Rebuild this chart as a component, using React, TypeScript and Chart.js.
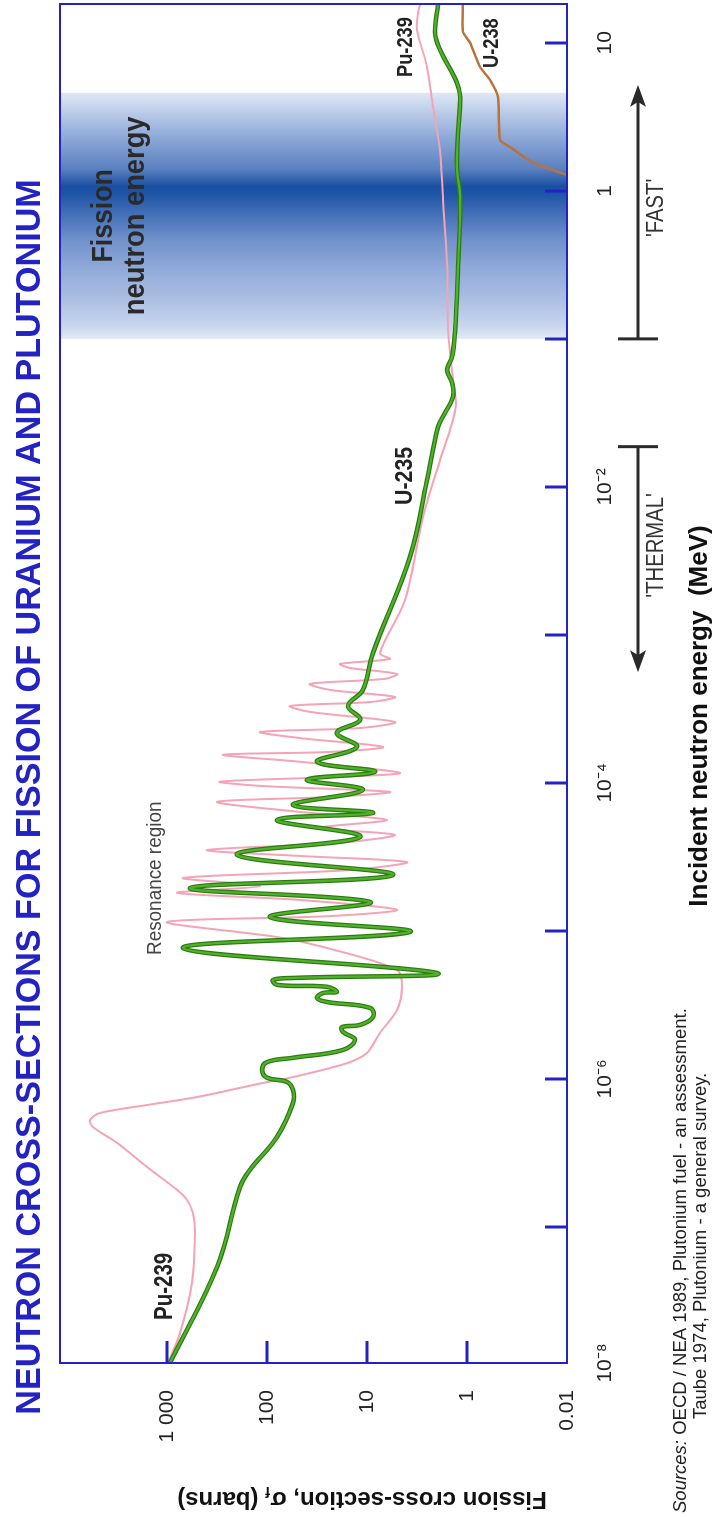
import React, { useEffect, useRef } from 'react';
import { Chart, registerables } from 'chart.js';

Chart.register(...registerables);

const FONT = '"Liberation Sans", Arial, Helvetica, sans-serif';

// ---------- axes ----------
const ENERGY_MIN = 1.205e-8;
const ENERGY_MAX = 18.3;
const SIGMA_MIN = 0.1;
const SIGMA_MAX = 11750;

const xTickValues = [1.205e-8, 1e-7, 1e-6, 1e-5, 1e-4, 1e-3, 1e-2, 1e-1, 1, 10];
const xTickLabels = ['10⁻⁸', '', '10⁻⁶', '', '10⁻⁴', '', '10⁻²', '', '1', '10'];
const yTickValues = [0.1, 1, 10, 100, 1000];
const yTickLabels = ['0.01', '1', '10', '100', '1 000'];

// ---------- U-235 (MeV, barns) ----------
const u235Energy = [
  1.21e-8, 5.37e-8, 1.86e-7, 2.43e-7, 4.06e-7, 6.89e-7, 8.43e-7, 9.55e-7, 1.02e-6, 1.15e-6,
  1.3e-6, 1.39e-6, 1.57e-6, 1.84e-6, 2.08e-6, 2.24e-6, 2.32e-6, 2.62e-6, 3.02e-6, 3.31e-6,
  3.52e-6, 3.81e-6, 3.87e-6, 4.19e-6, 4.32e-6, 4.67e-6, 4.81e-6, 5.2e-6, 7.67e-6, 9.84e-6,
  1.24e-5, 1.57e-5, 1.95e-5, 2.39e-5, 3.27e-5, 4.32e-5, 5.62e-5, 6.27e-5, 7.1e-5, 8.97e-5,
  1.05e-4, 1.19e-4, 1.39e-4, 1.75e-4, 2.18e-4, 2.67e-4, 3.31e-4, 4.25e-4, 7.55e-4, 3.37e-3,
  1.11e-2, 2.54e-2, 3.16e-2, 4.06e-2, 5.05e-2, 6.18e-2, 7.55e-2, 0.11, 0.306, 0.869,
  1.45, 2.46, 4.32, 5.37, 8.97, 11.7, 18.1,
];
const u235Sigma = [
  933, 316, 186, 148, 79.4, 55, 55, 63, 100, 112,
  100, 55, 17.4, 13.2, 17.4, 17.8, 11.7, 8.7, 9.3, 25,
  31.6, 27.5, 20, 25, 79, 87, 55, 2.0, 692, 3.72,
  93.3, 9.33, 589, 5.5, 200, 11.7, 79.4, 8.71, 55, 11.0,
  39.8, 8.32, 31.6, 12.6, 20.0, 11.7, 15.5, 11.0, 8.71, 3.72,
  2.51, 1.95, 1.66, 1.38, 1.41, 1.58, 1.41, 1.32, 1.23, 1.17,
  1.26, 1.23, 1.17, 1.26, 1.86, 2.09, 1.95,
];

// ---------- Pu-239 ----------
const pu239Energy = [
  1.21e-8, 1.92e-8, 4.19e-8, 9.1e-8, 1.24e-7, 1.52e-7, 1.78e-7, 2.54e-7, 3.7e-7, 4.74e-7,
  5.28e-7, 5.89e-7, 6.67e-7, 7.55e-7, 9.4e-7, 1.03e-6, 1.28e-6, 1.5e-6, 2.05e-6, 2.92e-6,
  4.19e-6, 5.45e-6, 7.8e-6, 9.1e-6, 1.15e-5, 1.26e-5, 1.39e-5, 1.62e-5, 1.81e-5, 2.01e-5,
  2.28e-5, 2.58e-5, 2.92e-5, 3.21e-5, 3.52e-5, 3.94e-5, 4.46e-5, 4.97e-5, 5.62e-5, 6.37e-5,
  7.45e-5, 8.04e-5, 8.69e-5, 9.55e-5, 1.02e-4, 1.1e-4, 1.17e-4, 1.39e-4, 1.55e-4, 1.62e-4,
  1.75e-4, 2.01e-4, 2.21e-4, 2.35e-4, 2.58e-4, 3.02e-4, 3.31e-4, 3.52e-4, 3.81e-4, 4.25e-4,
  4.67e-4, 5.05e-4, 5.45e-4, 5.98e-4, 6.37e-4, 6.89e-4, 7.55e-4, 1.72e-3, 6.27e-3, 1.52e-2,
  2.43e-2, 3.58e-2, 5.28e-2, 0.115, 0.306, 0.869, 1.89, 3.7, 6.88, 12.2,
  16.0, 18.1,
];
const pu239Sigma = [
  977, 741, 562, 525, 550, 631, 794, 1580, 3160, 5500,
  5890, 4680, 1580, 501, 110, 55, 15.8, 10.0, 7.41, 5.01,
  4.47, 5.01, 27.5, 79.4, 1000, 23.4, 5.0, 46.8, 794, 117,
  692, 14.8, 3.98, 46.8, 398, 18.6, 5.25, 29.5, 6.31, 46.8,
  316, 23.4, 5.89, 117, 295, 18.6, 4.68, 46.8, 275, 23.4,
  6.92, 46.8, 117, 11.7, 5.25, 37.2, 58.9, 9.33, 5.25, 23.4,
  37.2, 6.61, 5.01, 14.8, 18.6, 5.89, 7.41, 4.17, 2.75, 1.86,
  1.48, 1.29, 1.38, 1.55, 1.58, 1.74, 1.86, 2.19, 2.51, 3.16,
  3.09, 2.95,
];

// ---------- U-238 ----------
const u238Energy = [1.28, 1.55, 1.98, 2.21, 4.32, 5.62, 6.88, 10.0, 11.9, 18.1];
const u238Sigma = [0.1, 0.219, 0.372, 0.468, 0.49, 0.589, 0.741, 0.933, 1.1, 1.1];

// ---------- annotations (energies in MeV) ----------
const fissionBand = [0.1, 1, 4.6];
const thermalArrow = [1.87e-2, 5.6e-4]; // cap, head
const fastArrow = [0.1, 5.2]; // cap, head

const BLUE = '#2323c4';
const bandStops: [number, string][] = [
  [0, '#e3eaf6'],
  [0.05, '#c9d6ee'],
  [0.17, '#aabde2'],
  [0.29, '#8fa9d8'],
  [0.41, '#6d8fca'],
  [0.53, '#3a68b3'],
  [0.59, '#1d54a6'],
  [0.62, '#1a50a2'],
  [0.69, '#5a80c0'],
  [0.81, '#8aa6d6'],
  [0.93, '#c0cfea'],
  [1, '#dfe7f5'],
];

const pts = (xs: number[], ys: number[]) => xs.map((x, i) => ({ x, y: ys[i] }));

function txt(
  ctx: CanvasRenderingContext2D,
  s: string,
  x: number,
  y: number,
  size: number,
  o: { bold?: boolean; italic?: boolean; color?: string; align?: string; sx?: number } = {}
) {
  const sx = o.sx ?? 1;
  ctx.save();
  ctx.font = `${o.italic ? 'italic ' : ''}${o.bold ? 'bold ' : ''}${size}px ${FONT}`;
  ctx.fillStyle = o.color ?? '#222';
  ctx.textBaseline = 'alphabetic';
  ctx.textAlign = 'left';
  const w = ctx.measureText(s).width * sx;
  const x0 = o.align === 'center' ? x - w / 2 : o.align === 'right' ? x - w : x;
  ctx.translate(x0, y);
  ctx.scale(sx, 1);
  ctx.fillText(s, 0, 0);
  ctx.restore();
  return w;
}

function arrow(ctx: CanvasRenderingContext2D, xCap: number, xHead: number, y: number) {
  const dir = Math.sign(xHead - xCap);
  ctx.save();
  ctx.strokeStyle = '#2a2a2a';
  ctx.fillStyle = '#2a2a2a';
  ctx.lineWidth = 3;
  ctx.beginPath();
  ctx.moveTo(xCap, y);
  ctx.lineTo(xHead - dir * 14, y);
  ctx.stroke();
  ctx.beginPath();
  ctx.moveTo(xCap, y - 20);
  ctx.lineTo(xCap, y + 20);
  ctx.stroke();
  ctx.beginPath();
  ctx.moveTo(xHead, y);
  ctx.lineTo(xHead - dir * 22, y - 8);
  ctx.lineTo(xHead - dir * 17, y);
  ctx.lineTo(xHead - dir * 22, y + 8);
  ctx.closePath();
  ctx.fill();
  ctx.restore();
}

const annotations = {
  id: 'annotations',
  beforeDatasetsDraw(chart: any) {
    const { ctx, chartArea: a, scales } = chart;
    const xs = scales.x;
    const x0 = xs.getPixelForValue(fissionBand[0]);
    const x1 = xs.getPixelForValue(fissionBand[2]);
    const g = ctx.createLinearGradient(x0, 0, x1, 0);
    bandStops.forEach(([p, c]) => g.addColorStop(p, c));
    ctx.save();
    ctx.fillStyle = g;
    ctx.fillRect(x0, a.top, x1 - x0, a.bottom - a.top);
    ctx.restore();
    const xc = (x0 + x1) / 2;
    txt(ctx, 'Fission', xc, 112, 30, { bold: true, color: '#2a2a2a', align: 'center', sx: 0.89 });
    txt(ctx, 'neutron energy', xc, 144, 30, { bold: true, color: '#2a2a2a', align: 'center', sx: 0.91 });
  },
  afterDraw(chart: any) {
    const { ctx, chartArea: a, scales } = chart;
    const xs = scales.x;
    const ys = scales.y;
    ctx.save();
    // frame
    ctx.strokeStyle = BLUE;
    ctx.lineWidth = 2;
    ctx.strokeRect(a.left, a.top, a.right - a.left, a.bottom - a.top);
    // inner tick marks
    ctx.lineWidth = 3;
    xTickValues.slice(1).forEach((v) => {
      const p = Math.round(xs.getPixelForValue(v));
      ctx.beginPath();
      ctx.moveTo(p, a.bottom);
      ctx.lineTo(p, a.bottom - 22);
      ctx.stroke();
    });
    yTickValues.slice(1).forEach((v) => {
      const p = Math.round(ys.getPixelForValue(v));
      ctx.beginPath();
      ctx.moveTo(a.left, p);
      ctx.lineTo(a.left + 22, p);
      ctx.stroke();
    });
    ctx.restore();

    // title
    txt(ctx, 'NEUTRON CROSS-SECTIONS FOR FISSION OF URANIUM AND PLUTONIUM', 720, 40, 35, {
      bold: true, color: BLUE, align: 'center', sx: 0.975,
    });

    // curve labels
    txt(ctx, 'Pu-239', 197, 172, 25, { bold: true, sx: 0.82 });
    txt(ctx, 'Pu-239', 1440, 412, 22, { bold: true, sx: 0.83 });
    txt(ctx, 'U-238', 1449, 498, 22, { bold: true, sx: 0.83 });
    txt(ctx, 'U-235', 1012, 412, 24, { bold: true, sx: 0.89 });
    txt(ctx, 'Resonance region', 562, 161, 21, { color: '#444', sx: 0.9 });

    // arrows
    const ay = 638;
    const tc = xs.getPixelForValue(thermalArrow[0]);
    const th = xs.getPixelForValue(thermalArrow[1]);
    arrow(ctx, tc, th, ay);
    txt(ctx, "'THERMAL'", (tc + th) / 2 + 14, 663, 23, { color: '#333', align: 'center', sx: 0.88 });
    const fc = xs.getPixelForValue(fastArrow[0]);
    const fh = xs.getPixelForValue(fastArrow[1]);
    arrow(ctx, fc, fh, ay);
    txt(ctx, "'FAST'", (fc + fh) / 2 + 4, 663, 23, { color: '#333', align: 'center', sx: 0.88 });

    // x axis title
    txt(ctx, 'Incident neutron energy  (MeV)', 801, 707, 26, { bold: true, color: '#111', align: 'center' });

    // y axis title (rotated)
    ctx.save();
    ctx.translate(25, 362);
    ctx.rotate(-Math.PI / 2);
    ctx.fillStyle = '#111';
    ctx.textBaseline = 'alphabetic';
    ctx.textAlign = 'left';
    const big = `bold 24px ${FONT}`;
    const small = `bold 15px ${FONT}`;
    const p1 = 'Fission cross-section, σ';
    const p2 = 'f';
    const p3 = ' (barns)';
    ctx.font = big;
    const w1 = ctx.measureText(p1).width;
    const w3 = ctx.measureText(p3).width;
    ctx.font = small;
    const w2 = ctx.measureText(p2).width;
    let cx = -(w1 + w2 + w3) / 2;
    ctx.font = big;
    ctx.fillText(p1, cx, 0);
    cx += w1;
    ctx.font = small;
    ctx.fillText(p2, cx, 5);
    cx += w2;
    ctx.font = big;
    ctx.fillText(p3, cx, 0);
    ctx.restore();

    // sources
    const sw = txt(ctx, 'Sources:', 4, 686, 18.5, { italic: true, color: '#222' });
    txt(ctx, ' OECD / NEA 1989, Plutonium fuel - an assessment.', 4 + sw, 686, 18.5, { color: '#222' });
    txt(ctx, 'Taube 1974, Plutonium - a general survey.', 98, 706, 18.5, { color: '#222' });
  },
};

export default function App() {
  const ref = useRef<HTMLCanvasElement>(null);
  useEffect(() => {
    const canvas = ref.current;
    if (!canvas) return;
    const u235 = pts(u235Energy, u235Sigma);
    const chart = new Chart(canvas, {
      type: 'scatter',
      data: {
        datasets: [
          { label: 'U-235', data: u235, showLine: true, borderColor: '#4fb22a', borderWidth: 2.2, tension: 0.4, pointRadius: 0 },
          { label: 'U-235 edge', data: u235, showLine: true, borderColor: '#2c7a12', borderWidth: 4.6, tension: 0.4, pointRadius: 0 },
          { label: 'U-238', data: pts(u238Energy, u238Sigma), showLine: true, borderColor: '#b8733c', borderWidth: 2.5, tension: 0.2, pointRadius: 0 },
          { label: 'Pu-239', data: pts(pu239Energy, pu239Sigma), showLine: true, borderColor: '#f5a3b6', borderWidth: 2, tension: 0.3, pointRadius: 0 },
        ],
      },
      options: {
        responsive: false,
        animation: false,
        devicePixelRatio: 1,
        layout: { padding: { top: 60, right: 4, left: 0, bottom: 0 } },
        plugins: { legend: { display: false }, tooltip: { enabled: false }, title: { display: false } },
        events: [],
        scales: {
          x: {
            type: 'logarithmic',
            position: 'bottom',
            min: ENERGY_MIN,
            max: ENERGY_MAX,
            bounds: 'data',
            grid: { display: false, drawTicks: false },
            border: { display: false },
            afterBuildTicks: (s: any) => {
              s.ticks = xTickValues.map((v) => ({ value: v }));
            },
            afterFit: (s: any) => {
              s.height = 147;
            },
            ticks: {
              autoSkip: false,
              maxRotation: 0,
              minRotation: 0,
              padding: 26,
              color: '#222',
              font: { family: FONT, size: 21 },
              callback: (_v: any, i: number) => xTickLabels[i],
            },
          },
          y: {
            type: 'logarithmic',
            position: 'left',
            min: SIGMA_MIN,
            max: SIGMA_MAX,
            bounds: 'data',
            grid: { display: false, drawTicks: false },
            border: { display: false },
            afterBuildTicks: (s: any) => {
              s.ticks = yTickValues.map((v) => ({ value: v }));
            },
            afterFit: (s: any) => {
              s.width = 154;
            },
            ticks: {
              padding: 27,
              color: '#222',
              font: { family: FONT, size: 21 },
              callback: (_v: any, i: number) => yTickLabels[i],
            },
          },
        },
      } as any,
      plugins: [annotations],
    });
    return () => chart.destroy();
  }, []);

  return (
    <div
      style={{
        position: 'absolute',
        left: 0,
        top: 0,
        width: 1517,
        height: 714,
        background: '#fff',
        transformOrigin: '0 0',
        transform: 'translateY(1517px) rotate(-90deg)',
      }}
    >
      <canvas ref={ref} width={1517} height={714} style={{ display: 'block', width: 1517, height: 714 }} />
    </div>
  );
}
